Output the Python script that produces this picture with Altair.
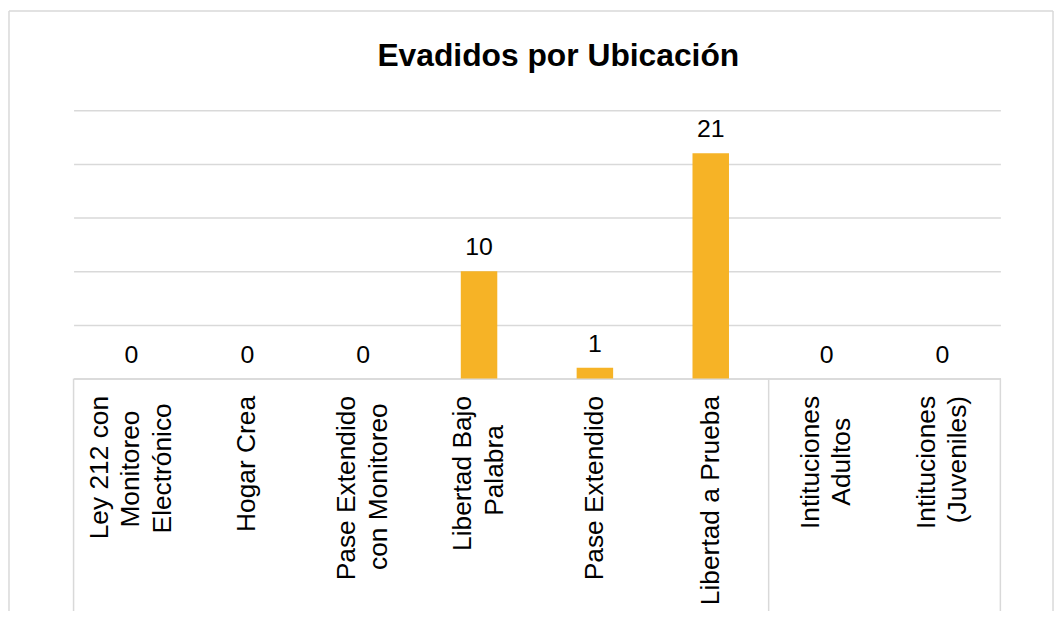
import altair as alt
import pandas as pd

# ---- data ----
label_lines = [
    ["Ley 212 con", "Monitoreo", "Electrónico"],
    ["Hogar Crea"],
    ["Pase Extendido", "con Monitoreo"],
    ["Libertad Bajo", "Palabra"],
    ["Pase Extendido"],
    ["Libertad a Prueba"],
    ["Intituciones", "Adultos"],
    ["Intituciones", "(Juveniles)"],
]
values = [0, 0, 0, 10, 1, 21, 0, 0]
grid_values = [0, 5, 10, 15, 20, 25]
title_text = "Evadidos por Ubicación"
sep_start = [0, 6]   # category indexes whose left edge carries a separator
sep_end = [7]        # category indexes whose right edge carries a separator

# ---- style ----
FONT = "Liberation Sans"
BAR = "#F6B326"
GRID = "#D9D9D9"
W, H = 933, 270
LABEL_SIZE = 26.5
LINE_H = 31.5

# Arial/Liberation Sans advance widths (1/1000 em) used to centre the lines
# of the right-aligned rotated labels (padding with no-break spaces, closed
# by a zero-width space so that the padding is not trimmed).
ADV = {"L": 556, "e": 556, "y": 500, " ": 278, "2": 556, "1": 556, "c": 500,
       "o": 556, "n": 556, "M": 833, "i": 222, "t": 278, "r": 333, "E": 667,
       "l": 222, "ó": 556, "H": 722, "g": 556, "a": 556, "C": 722, "P": 667,
       "s": 500, "x": 500, "d": 556, "b": 556, "B": 667, "j": 222, "u": 556,
       "I": 278, "A": 667, "(": 333, "J": 500, "v": 500, ")": 333}


def adv(s):
    return sum(ADV.get(ch, 556) for ch in s)


def centred(lines):
    m = max(adv(l) for l in lines)
    out = []
    for l in lines:
        k = round((m - adv(l)) / 2 / 278)
        out.append(l + ("\u00a0" * k + "\u200b" if k else ""))
    return "|".join(out)


cats = [centred(l) for l in label_lines]
df = pd.DataFrame({"cat": cats, "value": values})
xscale = alt.Scale(domain=cats, paddingInner=0, paddingOuter=0)
yscale = alt.Scale(domain=[0, 25], nice=False)

x_axis = alt.Axis(
    title=None,
    labelExpr="split(datum.label, '|')",
    labelAngle=270,
    labelAlign="right",
    labelBaseline="middle",
    labelFont=FONT,
    labelFontSize=LABEL_SIZE,
    labelLineHeight=LINE_H,
    labelColor="#000000",
    labelPadding=17,
    labelLimit=400,
    labelOverlap=False,
    labelBound=False,
    ticks=False,
    domainColor=GRID,
    domainWidth=1.5,
    grid=False,
    labelOffset={
        "condition": {
            "test": "isValid(datum.label)",
            "expr": f"-(length(split(datum.label, '|')) - 1) * {LINE_H / 2}",
        },
        "value": 0,
    },
)
y_axis = alt.Axis(values=grid_values, grid=True, gridColor=GRID, gridWidth=1.5,
                  domain=False, ticks=False, labels=False, title=None)


def xenc(band_pos=None):
    if band_pos is None:
        return alt.X("cat:N", scale=xscale, axis=x_axis, sort=None)
    return alt.X("cat:N", scale=xscale, axis=x_axis, sort=None, bandPosition=band_pos)


y_enc = alt.Y("value:Q", scale=yscale, axis=y_axis)

bars = alt.Chart(df).mark_bar(color=BAR, width=alt.RelativeBandSize(0.315)).encode(
    x=xenc(), y=y_enc,
)

texts = alt.Chart(df).mark_text(
    dy=-16, baseline="alphabetic", align="center", font=FONT, fontSize=25, color="#000000"
).encode(x=xenc(), y=y_enc, text="value:Q")

seps_a = alt.Chart(pd.DataFrame({"cat": [cats[i] for i in sep_start]})).mark_rule(
    color=GRID, strokeWidth=1.5
).encode(x=xenc(0), y=alt.value(H), y2=alt.value(510))
seps_b = alt.Chart(pd.DataFrame({"cat": [cats[i] for i in sep_end]})).mark_rule(
    color=GRID, strokeWidth=1.5
).encode(x=xenc(1), y=alt.value(H), y2=alt.value(510))

one = pd.DataFrame({"k": [0]})
frame_top = alt.Chart(one).mark_rule(color=GRID, strokeWidth=1.5).encode(
    x=alt.value(-65), x2=alt.value(986), y=alt.value(-100)
)
frame_left = alt.Chart(one).mark_rule(color=GRID, strokeWidth=1.5).encode(
    x=alt.value(-65), y=alt.value(-100), y2=alt.value(510)
)
frame_right = alt.Chart(one).mark_rule(color=GRID, strokeWidth=1.5).encode(
    x=alt.value(986), y=alt.value(-100), y2=alt.value(510)
)
title = alt.Chart(one).mark_text(
    text=title_text, font=FONT, fontSize=32, fontWeight="bold", color="#000000",
    align="center", baseline="alphabetic"
).encode(x=alt.value(488), y=alt.value(-45))

chart = alt.layer(
    bars, texts, seps_a, seps_b, frame_top, frame_left, frame_right, title
).properties(
    width=W,
    height=H,
    padding={"left": 66, "top": 101, "right": 55, "bottom": 232},
    autosize=alt.AutoSizeParams(type="none"),
    background="white",
).configure_view(stroke=None)

chart.save("out.html", embed_options={"renderer": "svg", "actions": False})
